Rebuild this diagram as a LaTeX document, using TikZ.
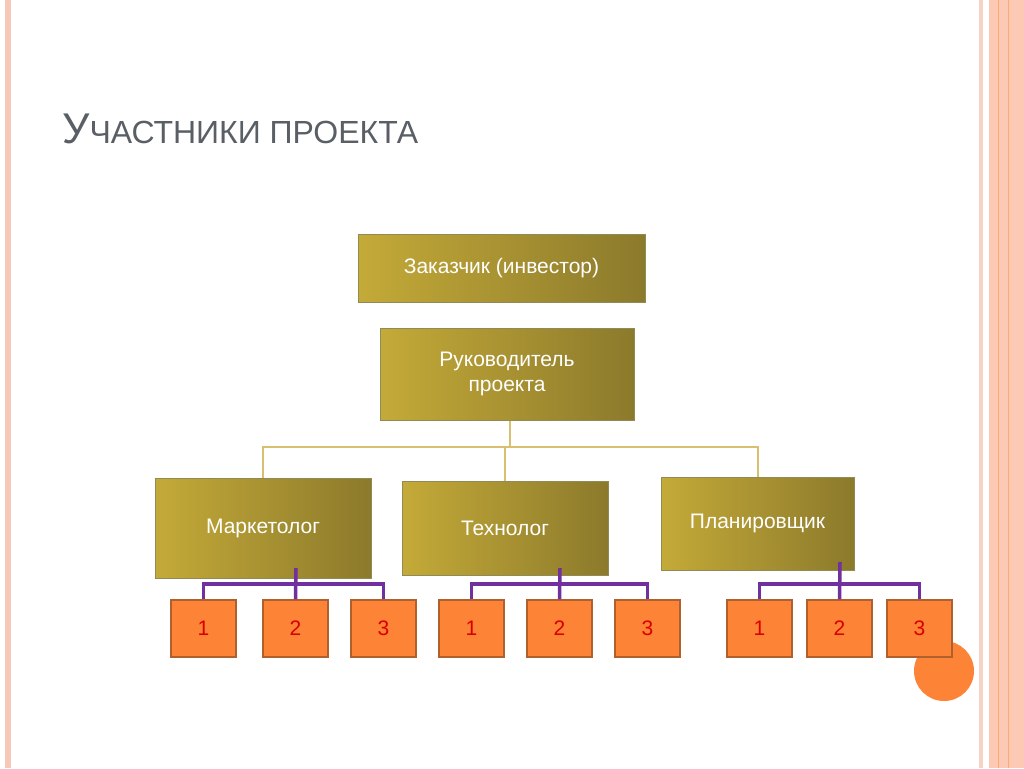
\documentclass[tikz,border=0pt]{standalone}
\usepackage{fontspec}
\setmainfont{Liberation Sans}
\begin{document}
\begin{tikzpicture}[x=1pt,y=-1pt,
  gold/.style={draw=gray!60!olive, line width=1pt, left color=goldL, right color=goldD, text=white, font=\fontsize{21}{25}\selectfont, align=center, inner sep=0pt},
  small/.style={draw=brownB, line width=1.5pt, fill=orangeF, text=red!85!black, font=\fontsize{21}{25}\selectfont, minimum width=65pt, minimum height=57pt, inner sep=0pt},
  gl/.style={draw=goldLine, line width=2pt},
  pl/.style={draw=purpleL, line width=3.5pt}]
\definecolor{goldL}{HTML}{C4AA38}
\definecolor{goldD}{HTML}{8C7A2C}
\definecolor{goldLine}{HTML}{D8C070}
\definecolor{brownB}{HTML}{B0602C}
\definecolor{orangeF}{HTML}{FD8336}
\definecolor{purpleL}{HTML}{7030A0}
\definecolor{titleC}{HTML}{5A5F66}
\definecolor{pinkL}{HTML}{F5C8B8}
\definecolor{peach}{HTML}{FCCAB4}
\useasboundingbox (0,0) rectangle (1024,768);
\fill[white] (0,0) rectangle (1024,768);
% borders
\fill[pinkL] (5,0) rectangle (11,768);
\fill[pinkL!80] (979,0) rectangle (983,768);
\fill[peach] (989,0) rectangle (1024,768);
\draw[orangeF!70, line width=0.6pt] (998,0) -- (998,768);
\draw[orangeF!70, line width=0.6pt] (1008,0) -- (1008,768);
% title
\node[anchor=base west, inner sep=0pt, text=titleC] (title) at (62,143) {\fontsize{43}{46}\selectfont У\fontsize{32}{36}\selectfont ЧАСТНИКИ ПРОЕКТА};
% circle
\fill[orangeF] (944,671) circle (30);
% gold nodes
\node[gold, minimum width=287pt, minimum height=68pt] (z) at (501.5,268) {Заказчик (инвестор)};
\node[gold, minimum width=254pt, minimum height=92pt] (r) at (507,374) {Руководитель\\проекта};
\node[gold, minimum width=216pt, minimum height=100pt] (m) at (263,528) {Маркетолог};
\node[gold, minimum width=206pt, minimum height=94pt] (t) at (505,528) {Технолог};
\node[gold, minimum width=193pt, minimum height=93pt] (p) at (757.5,523.5) {Планировщик};
% gold connectors
\coordinate (h) at (510,447);
\draw[gl] (r.south -| h) -- (h);
\draw[gl] (m.north) |- (h) -| (p.north);
\draw[gl] (h) -| (t.north);
% small nodes
\foreach \n/\x/\l in {a1/203.5/1,a2/295.5/2,a3/383.5/3,b1/471.5/1,b2/559.5/2,b3/647.5/3,c1/759.5/1,c2/839.5/2,c3/919.5/3}
  \node[small] (\n) at (\x,628.5) {\l};
% purple connectors
\draw[pl] (a1.north) |- (296,584) -| (a3.north);
\draw[pl] (296,568) -- (a2.north);
\draw[pl] (b1.north) |- (560,584) -| (b3.north);
\draw[pl] (560,568) -- (b2.north);
\draw[pl] (c1.north) |- (840,584) -| (c3.north);
\draw[pl] (840,562) -- (c2.north);
\end{tikzpicture}
\end{document}
